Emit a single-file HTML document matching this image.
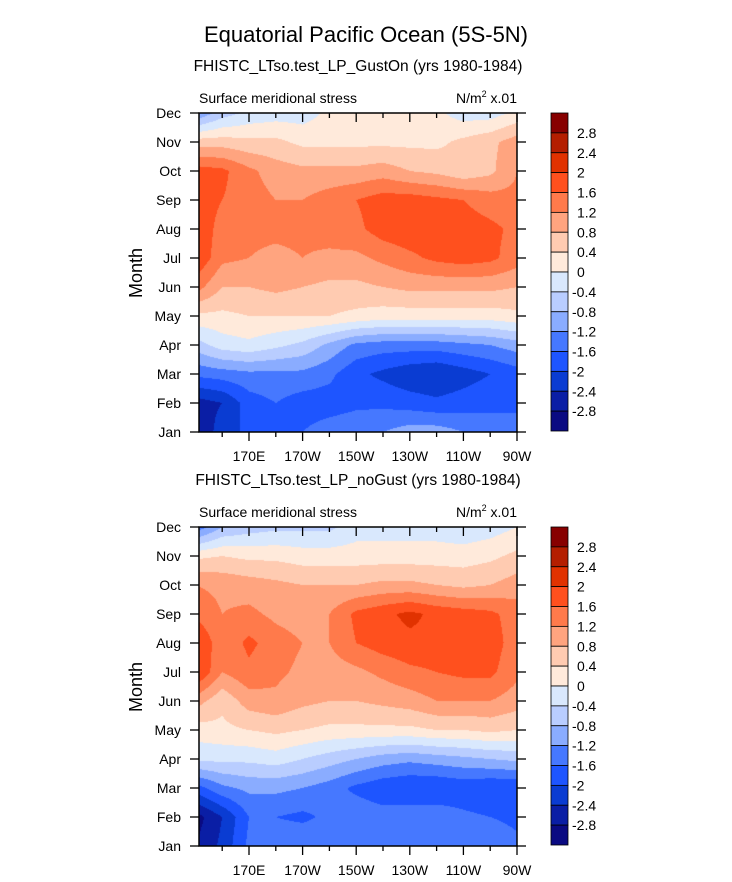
<!DOCTYPE html>
<html><head><meta charset="utf-8">
<style>
body{margin:0;background:#fff;width:732px;height:882px;overflow:hidden;position:relative;font-family:"Liberation Sans",Arial,sans-serif;color:#000}
.t{position:absolute;white-space:nowrap}
canvas{position:absolute}
</style></head>
<body>
<div class="t" style="left:0;width:732px;text-align:center;top:22px;font-size:22px">Equatorial Pacific Ocean (5S-5N)</div>
<svg id="svg" width="732" height="882" style="position:absolute;left:0;top:0"></svg>
<script>
const months=["Jan","Feb","Mar","Apr","May","Jun","Jul","Aug","Sep","Oct","Nov","Dec"];
const lons=[150,160,170,180,190,200,210,220,230,240,250,260,270];
const xTickLons=[170,190,210,230,250,270];
const xTickLabels=["170E","170W","150W","130W","110W","90W"];
const levels=[-2.8,-2.4,-2,-1.6,-1.2,-0.8,-0.4,0,0.4,0.8,1.2,1.6,2,2.4,2.8];
const levelLabels=["2.8","2.4","2","1.6","1.2","0.8","0.4","0","-0.4","-0.8","-1.2","-1.6","-2","-2.4","-2.8"];
const colors=["#0a0a82","#0a1ea5","#0a3cd2","#1e55ff","#4678ff","#8aacff","#b9cdff","#d9e8fd","#ffeadb","#ffcbb1","#ffa47f","#ff7a4b","#ff501e","#e13200","#b41e00","#870000"];
// rows Jan..Dec, columns lons
const gustOn=[
[-2.8,-2.2,-1.9,-1.7,-1.6,-1.4,-1.3,-1.2,-1.0,-1.0,-1.2,-1.4,-1.6],
[-2.6,-2.4,-1.8,-1.6,-1.8,-1.8,-1.7,-1.7,-1.8,-1.9,-1.8,-1.7,-1.6],
[-1.5,-1.4,-1.3,-1.3,-1.3,-1.5,-1.9,-2.1,-2.3,-2.4,-2.2,-2.0,-1.8],
[-0.6,-0.2,-0.1,-0.3,-0.5,-0.9,-1.3,-1.4,-1.4,-1.4,-1.3,-1.2,-1.0],
[0.3,0.3,0.4,0.4,0.4,0.4,0.3,0.2,0.2,0.2,0.2,0.2,0.3],
[1.4,0.8,0.8,0.9,0.8,0.7,0.7,0.8,0.9,0.9,0.9,0.9,0.8],
[2.0,1.3,1.2,1.1,1.2,1.1,1.1,1.3,1.5,1.7,1.8,1.7,1.4],
[2.0,1.4,1.3,1.3,1.3,1.4,1.5,1.8,1.9,1.9,1.8,1.7,1.5],
[1.9,1.6,1.4,1.2,1.2,1.4,1.6,1.8,1.8,1.7,1.6,1.4,1.3],
[1.8,1.7,1.3,1.0,0.9,0.9,0.9,1.0,0.8,0.7,0.5,0.7,1.2],
[0.6,0.6,0.5,0.5,0.3,0.3,0.3,0.3,0.3,0.3,0.5,0.7,1.0],
[-1.2,-0.6,-0.3,-0.2,-0.2,0.1,0.2,0.2,0.2,0.1,-0.2,-0.2,0.1]];
const noGust=[
[-2.8,-2.3,-1.5,-1.3,-1.2,-1.3,-1.2,-1.3,-1.3,-1.4,-1.4,-1.3,-1.5],
[-3.0,-2.4,-1.6,-1.6,-1.7,-1.5,-1.3,-1.4,-1.3,-1.3,-1.5,-1.6,-1.7],
[-1.8,-1.3,-1.1,-1.1,-1.2,-1.4,-1.7,-1.9,-2.0,-2.0,-1.9,-2.0,-2.0],
[-0.3,-0.3,-0.3,-0.2,-0.4,-0.6,-0.8,-1.0,-1.1,-1.0,-0.9,-0.8,-0.7],
[0.2,0.3,0.4,0.5,0.4,0.3,0.3,0.3,0.3,0.4,0.4,0.5,0.4],
[1.0,0.5,1.0,1.1,0.9,0.8,0.8,0.9,1.0,1.2,1.2,1.2,1.0],
[2.1,1.2,1.5,1.3,1.1,1.0,1.1,1.3,1.5,1.6,1.7,1.7,1.3],
[2.1,1.3,1.7,1.4,1.2,1.2,1.6,1.8,1.9,1.9,2.0,1.8,1.4],
[1.5,1.2,1.3,1.1,1.0,1.2,1.7,1.9,2.1,1.9,1.8,1.7,1.4],
[1.2,1.1,1.0,0.9,0.8,0.8,0.8,0.9,0.9,0.8,0.7,0.8,1.0],
[0.3,0.4,0.3,0.3,0.2,0.2,0.2,0.2,0.2,0.2,0.2,0.3,0.5],
[-1.5,-0.8,-0.6,-0.5,-0.5,-0.5,-0.2,-0.2,-0.2,-0.2,-0.3,-0.2,0.0]];

const NS="http://www.w3.org/2000/svg";
const svg=document.getElementById('svg');
const X0=199,X1=517;
function xs(lon){return 249+(lon-170)*2.68;}
function colorFor(v){let i=0;while(i<levels.length&&v>=levels[i])i++;return colors[i];}
function mk(tag,attrs,parent){const e=document.createElementNS(NS,tag);for(const k in attrs)e.setAttribute(k,attrs[k]);(parent||svg).appendChild(e);return e;}
function txt(s,x,y,size,anchor,parent){const e=mk('text',{x:x,y:y,'font-size':size,'text-anchor':anchor||'start','font-family':'Liberation Sans, Arial, sans-serif'},parent);e.textContent=s;return e;}
function hex(c){return [parseInt(c.slice(1,3),16),parseInt(c.slice(3,5),16),parseInt(c.slice(5,7),16)];}

function panel(data,Y0,subtitle,key){
  const Y1=Y0+319;
  const ys=m=>Y1-m*(Y1-Y0)/11;
  const g=mk('g',{});
  
  
  const st=txt(subtitle,358,Y0-42,15.5,'middle',g);
  
  
  const l=txt('Surface meridional stress',X0,Y0-10,14,'start',g);
  
  
  const u=mk('text',{x:X1,y:Y0-10,'font-size':14,'text-anchor':'end','font-family':'Liberation Sans, Arial, sans-serif'},g);
  u.innerHTML='N/m<tspan font-size="9" dy="-6">2</tspan><tspan dy="6"> x.01</tspan>';
  
  
  const W=X1-X0,H=Y1-Y0;
  const cv=document.createElement('canvas');cv.width=W;cv.height=H;
  const ctx=cv.getContext('2d');const img=ctx.createImageData(W,H);
  for(let py=0;py<H;py++){
    const m=(Y1-(Y0+py+0.5))/(H/11);
    const m0=Math.max(0,Math.min(10,Math.floor(m))),fm=Math.max(0,Math.min(1,m-m0));
    for(let px=0;px<W;px++){
      const lon=170+((X0+px+0.5)-249)/2.68;
      const f=(lon-lons[0])/10;
      const i0=Math.max(0,Math.min(lons.length-2,Math.floor(f))),fl=Math.max(0,Math.min(1,f-i0));
      const v=(1-fm)*((1-fl)*data[m0][i0]+fl*data[m0][i0+1])+fm*((1-fl)*data[m0+1][i0]+fl*data[m0+1][i0+1]);
      const c=hex(colorFor(v));const k=(py*W+px)*4;
      img.data[k]=c[0];img.data[k+1]=c[1];img.data[k+2]=c[2];img.data[k+3]=255;
    }
  }
  ctx.putImageData(img,0,0);
  const im=mk('image',{x:X0,y:Y0,width:W,height:H,href:cv.toDataURL()},g);
  
  
  const fr=mk('rect',{x:X0,y:Y0,width:W,height:H,fill:'none',stroke:'#000','stroke-width':1.5},g);
  
  
  months.forEach((mn,i)=>{
    const y=ys(i);
    mk('line',{x1:X0-9,x2:X0,y1:y,y2:y,stroke:'#000','stroke-width':1.3},g);
    mk('line',{x1:X1,x2:X1+9,y1:y,y2:y,stroke:'#000','stroke-width':1.3},g);
    const t=txt(mn,181,y+5,14,'end',g);
    
    
  });
  for(let lon=160;lon<=270;lon+=10){
    const x=xs(lon);const major=xTickLons.includes(lon);
    mk('line',{x1:x,x2:x,y1:Y1,y2:Y1+(major?9:5),stroke:'#000','stroke-width':1.3},g);
    mk('line',{x1:x,x2:x,y1:Y0,y2:Y0+(major?9:5),stroke:'#000','stroke-width':1.3},g);
  }
  xTickLabels.forEach((s,i)=>{
    const t=txt(s,xs(xTickLons[i]),Y1+29,14,'middle',g);
    
    
  });
  const yt=txt('Month',0,0,18,'middle',g);
  yt.setAttribute('transform','translate(142,'+(Y0+160)+') rotate(-90)');
  
  
  const cb=mk('g',{},g);
  
  
  const bh=(H-1)/16;
  for(let i=0;i<16;i++){
    const r=mk('rect',{x:551,y:Y0+i*bh,width:17,height:bh,fill:colors[15-i],stroke:'#000','stroke-width':0.8},cb);
    
    
  }
  levelLabels.forEach((s,i)=>{
    const t=txt(s,s[0]=='-'?572:577,Y0+(i+1)*bh+5,14,'start',cb);
    
    
  });
}
panel(gustOn,113,'FHISTC_LTso.test_LP_GustOn (yrs 1980-1984)','gust-on');
panel(noGust,527,'FHISTC_LTso.test_LP_noGust (yrs 1980-1984)','no-gust');
</script>
</body></html>
